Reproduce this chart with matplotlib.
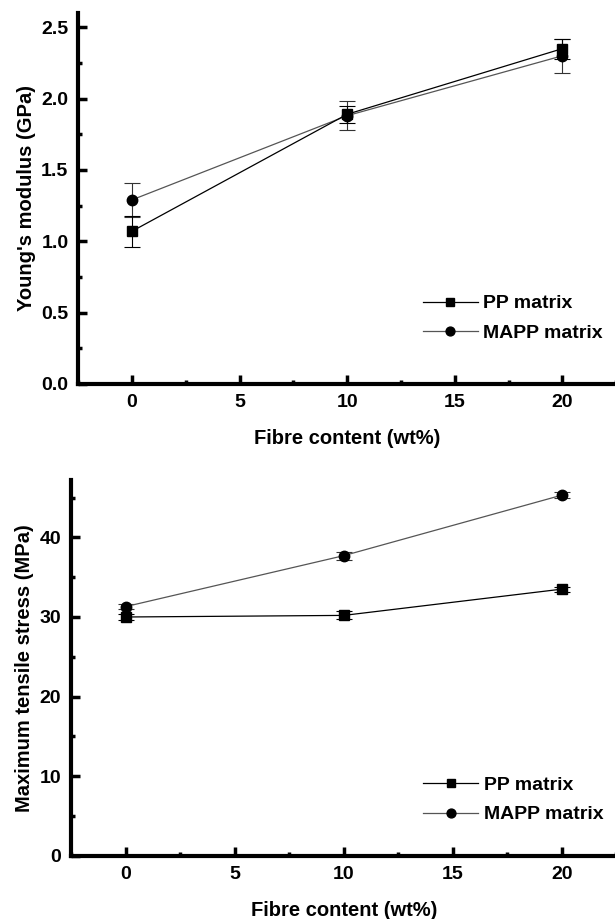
import numpy as np
import matplotlib
matplotlib.use("Agg")
import matplotlib.pyplot as plt
from matplotlib.ticker import MultipleLocator

plt.rcParams['font.family'] = ['Liberation Sans', 'DejaVu Sans']
plt.rcParams['font.weight'] = 'bold'

fibre = [0, 10, 20]

# Young's modulus (GPa)
pp_modulus = [1.07, 1.89, 2.35]
pp_modulus_err = [0.11, 0.06, 0.07]
mapp_modulus = [1.29, 1.88, 2.30]
mapp_modulus_err = [0.12, 0.10, 0.12]

# Maximum tensile stress (MPa)
pp_stress = [30.0, 30.2, 33.5]
pp_stress_err = [0.4, 0.5, 0.3]
mapp_stress = [31.3, 37.7, 45.3]
mapp_stress_err = [0.3, 0.5, 0.4]

fig = plt.figure(figsize=(6.15, 9.19), dpi=100)
ax1 = fig.add_axes([0.127, 0.5822, 0.875, 0.4037])
ax2 = fig.add_axes([0.1154, 0.0686, 0.887, 0.4091])


def draw(ax, pp, pp_err, mapp, mapp_err, ylim, major, minor, ylabel, fmt, leg_anchor):
    c_pp = ax.errorbar(fibre, pp, yerr=pp_err, color='black', lw=0.9, marker='s', ms=7.5,
                       mfc='black', mec='black', capsize=6, elinewidth=0.8, capthick=0.8,
                       label='PP matrix', zorder=3)
    c_mapp = ax.errorbar(fibre, mapp, yerr=mapp_err, color='#555555', lw=0.9, marker='o',
                         ms=7.5, mfc='black', mec='black', ecolor='#333333', capsize=6,
                         elinewidth=0.8, capthick=0.8, label='MAPP matrix', zorder=2)
    ax.set_xlim(-2.5, 22.5)
    ax.set_ylim(*ylim)
    ax.xaxis.set_major_locator(MultipleLocator(5))
    ax.xaxis.set_minor_locator(MultipleLocator(2.5))
    ax.yaxis.set_major_locator(MultipleLocator(major))
    ax.yaxis.set_minor_locator(MultipleLocator(minor))
    ax.yaxis.set_major_formatter(fmt)
    for s in ['top', 'right']:
        ax.spines[s].set_visible(False)
    for s in ['left', 'bottom']:
        ax.spines[s].set_linewidth(3)
    ax.tick_params(which='major', direction='in', length=6.5, width=2.5,
                   labelsize=14, pad=7)
    ax.tick_params(which='minor', direction='in', length=3, width=2.5)
    ax.set_xlabel('Fibre content (wt%)', fontsize=14.5, fontweight='bold', labelpad=13)
    ax.set_ylabel(ylabel, fontsize=14.5, fontweight='bold', labelpad=4)
    # legend shows only line + marker, no error bars
    ax.legend(handles=[c_pp[0], c_mapp[0]], labels=['PP matrix', 'MAPP matrix'],
              loc='lower right', bbox_to_anchor=leg_anchor, frameon=False,
              fontsize=14, handlelength=2.8, handletextpad=0.3, labelspacing=0.6,
              borderaxespad=0, markerscale=0.85)


draw(ax1, pp_modulus, pp_modulus_err, mapp_modulus, mapp_modulus_err,
     (0, 2.6), 0.5, 0.25, "Young's modulus (GPa)", '{x:.1f}', (0.99, 0.093))
draw(ax2, pp_stress, pp_stress_err, mapp_stress, mapp_stress_err,
     (0, 47.2), 10, 5, 'Maximum tensile stress (MPa)', '{x:.0f}', (0.99, 0.066))

fig.savefig('out.png', dpi=100, facecolor='white')
